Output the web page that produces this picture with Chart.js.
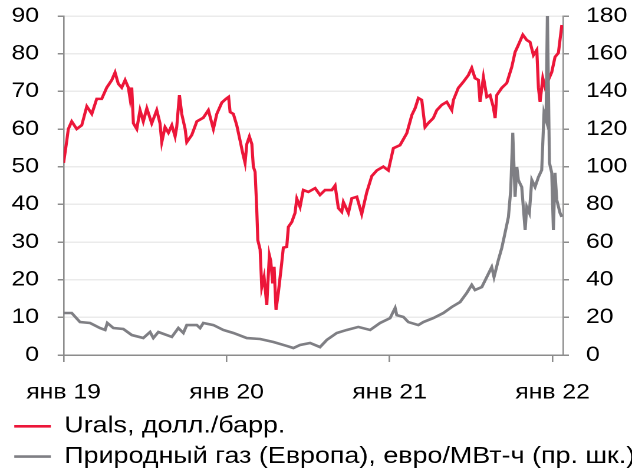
<!DOCTYPE html>
<html>
<head>
<meta charset="utf-8">
<script src="https://cdn.jsdelivr.net/npm/chart.js@4"></script>
<style>
  html, body { margin: 0; padding: 0; background: #fff; }
  /* the source picture is a bit wider than tall-proportional, so stretch the drawing */
  #wrap { width: 536px; height: 472px; transform: scaleX(1.1791); transform-origin: 0 0; }
</style>
</head>
<body>
<div id="wrap"><canvas id="chart"></canvas></div>
<script>
// x is months since Jan 2019
const xTickPos = [0, 12, 24, 36];
const xTickLabels = ["янв 19", "янв 20", "янв 21", "янв 22"];

const uralsLabel = "Urals, долл./барр.";
const uralsMonths = [
  0, 0.24, 0.35, 0.6, 0.97, 1.34, 1.71, 2.08, 2.44, 2.81,
  3.18, 3.55, 3.79, 4.03, 4.28, 4.53, 4.77, 4.9, 5.02, 5.14,
  5.39, 5.63, 5.87, 6.13, 6.49, 6.86, 7.1, 7.23, 7.47, 7.72,
  7.97, 8.21, 8.33, 8.53, 8.7, 8.95, 9.07, 9.44, 9.81, 10.29,
  10.66, 11.03, 11.28, 11.65, 11.96, 12.15, 12.26, 12.5, 12.75, 12.99,
  13.19, 13.36, 13.49, 13.68, 13.86, 13.97, 14.1, 14.22, 14.3, 14.47,
  14.59, 14.76, 14.96, 15.15, 15.25, 15.4, 15.5, 15.64, 15.81, 16.06,
  16.18, 16.43, 16.55, 16.8, 17.04, 17.17, 17.41, 17.65, 18.02, 18.52,
  18.88, 19.25, 19.75, 19.99, 20.23, 20.48, 20.6, 20.97, 21.22, 21.59,
  21.95, 22.32, 22.69, 23.06, 23.54, 23.91, 24.28, 24.77, 25.27, 25.64,
  25.88, 26.12, 26.37, 26.61, 26.86, 27.22, 27.48, 27.84, 28.21, 28.58,
  28.7, 29.06, 29.43, 29.8, 30.05, 30.29, 30.54, 30.66, 30.91, 31.16,
  31.4, 31.64, 31.77, 31.89, 32.26, 32.63, 33.0, 33.24, 33.48, 33.81,
  34.1, 34.34, 34.59, 34.84, 34.96, 35.08, 35.28, 35.45, 35.69, 35.94,
  36.18, 36.43, 36.68
];
const uralsPrice = [
  51, 57, 60, 62, 60, 61, 66, 64, 68, 68,
  71, 73, 75, 72, 71, 73, 71, 68, 71, 61.5,
  60, 65, 62, 65.5, 61.5, 65, 61.5, 56.5, 60.5, 59,
  61, 58, 60.5, 69, 64, 60, 56.5, 58.4, 62, 63,
  65, 60, 64, 67, 68, 68.5, 64.5, 64, 61, 57,
  53.6, 51, 56, 58, 56, 50, 48.6, 39, 30.5, 28,
  18, 20.7, 13.3, 26.5, 25, 19, 23.4, 12, 16.5, 24.4,
  28.5, 28.7, 34, 35.3, 37.7, 41.5, 39.3, 43.8, 43.3, 44.3,
  42.5, 43.8, 43.8, 45, 39, 38, 40.6, 37.7, 41.6, 42,
  37.4, 43.2, 47.5, 49, 50, 49, 54.9, 55.7, 58.9, 63.7,
  65.5, 68.2, 67.7, 60.5, 61.6, 62.9, 65, 66.4, 67.2, 65,
  67.7, 70.9, 72.5, 74.3, 76.2, 73.5, 73, 67.2, 73.8, 68.5,
  69, 65.8, 62.9, 69, 70.9, 72.2, 76.5, 80.4, 82.3, 85,
  83.6, 83.1, 79.6, 81, 70.9, 67.2, 73.5, 71.1, 73, 75.1,
  79.1, 80.2, 87.6
];

const gasLabel = "Природный газ (Европа), евро/МВт-ч (пр. шк.)";
const gasMonths = [
  0, 0.6, 1.21, 1.95, 2.69, 3.06, 3.22, 3.67, 4.4, 5.02,
  5.87, 6.37, 6.61, 6.98, 7.97, 8.45, 8.82, 9.07, 9.81, 10.05,
  10.29, 11.03, 11.76, 12.5, 13.49, 14.47, 15.45, 16.43, 16.92, 17.41,
  18.15, 18.88, 19.38, 20.11, 20.85, 21.7, 22.57, 23.3, 24.04, 24.41,
  24.53, 25.02, 25.38, 26.12, 26.49, 27.22, 27.96, 28.58, 29.19, 29.68,
  30.05, 30.29, 30.79, 31.16, 31.52, 31.69, 32.01, 32.26, 32.5, 32.75,
  32.92, 33.07, 33.24, 33.37, 33.48, 33.73, 33.98, 34.1, 34.29, 34.47,
  34.71, 34.96, 35.2, 35.37, 35.52, 35.62, 35.77, 35.94, 36.06, 36.18,
  36.31, 36.55, 36.68
];
const gasPrice = [
  22.3, 22.3, 17.5, 17, 14.3, 13.3, 17, 14.3, 13.8, 10.6,
  9, 12.2, 9, 12.2, 9.6, 14.3, 11.7, 15.9, 15.9, 14.3,
  17, 15.9, 13.3, 11.7, 9, 8.5, 6.9, 4.8, 3.7, 5.3,
  6.4, 4.2, 8, 11.7, 13.3, 14.9, 13.3, 17, 19.6, 25,
  21.2, 20.2, 17.5, 15.9, 17.5, 19.6, 22.3, 25.5, 28.1, 32.9,
  37.2, 34.5, 36.1, 41.4, 46.7, 41.4, 50.5, 56.8, 64.8, 73.3,
  87.6, 118, 84, 99.8, 92.9, 89.2, 66.4, 78.6, 75.4, 92.9,
  89.2, 94.5, 98.2, 128.5, 124.8, 182, 102, 96.7, 66.4, 96.7,
  82.3, 75.4, 73.3
];

const axisGray = "#8c8c8c";

Chart.defaults.font.family = "Arial, 'Liberation Sans', sans-serif";
Chart.defaults.color = "#000";

// fixed axis sizes, and no extra room above the plot for the top tick label
function fixWidth(w) {
  return (scale) => {
    scale.width = w;
    scale.paddingTop = 0;
    scale.paddingBottom = 0;
  };
}

const ctx = document.getElementById("chart");

const chart = new Chart(ctx, {
  type: "line",
  data: {
    datasets: [
      {
        label: uralsLabel,
        data: uralsMonths.map((m, i) => ({ x: m, y: uralsPrice[i] })),
        borderColor: "#ec1639",
        backgroundColor: "#ec1639",
        borderWidth: 2.6,
        pointRadius: 0,
        yAxisID: "y",
        order: 1,
      },
      {
        label: gasLabel,
        data: gasMonths.map((m, i) => ({ x: m, y: gasPrice[i] })),
        borderColor: "#7f7f84",
        backgroundColor: "#7f7f84",
        borderWidth: 2.6,
        pointRadius: 0,
        yAxisID: "y1",
        order: 0,
      },
    ],
  },
  options: {
    responsive: true,
    maintainAspectRatio: false,
    devicePixelRatio: 2,
    animation: false,
    layout: { padding: { top: 16, left: 4.6, right: 0, bottom: -6 } },
    plugins: {
      tooltip: { enabled: false },
      legend: {
        position: "bottom",
        align: "start",
        labels: {
          boxWidth: 31,
          boxHeight: 0,
          padding: 7.5,
          font: { size: 22.8 },
          sort: (a, b) => a.datasetIndex - b.datasetIndex,
        },
      },
    },
    scales: {
      x: {
        type: "linear",
        min: 0,
        max: 36.77,
        afterBuildTicks: (scale) => {
          scale.ticks = xTickPos.map((v) => ({ value: v }));
        },
        afterFit: (scale) => {
          scale.height = 52.4;
        },
        ticks: {
          callback: (value) => xTickLabels[xTickPos.indexOf(value)],
          padding: 18,
          maxRotation: 0,
          font: { size: 21 },
        },
        grid: { drawOnChartArea: false, tickLength: 7, tickColor: axisGray, lineWidth: 1.3 },
        border: { color: axisGray, width: 1.5 },
      },
      y: {
        position: "left",
        min: 0,
        max: 90,
        afterFit: fixWidth(49.3),
        ticks: { stepSize: 10, padding: 15.8, font: { size: 21 } },
        grid: { color: "#ebebeb", lineWidth: 1.5, tickLength: 5, tickColor: axisGray },
        border: { color: axisGray, width: 1.3 },
      },
      y1: {
        position: "right",
        min: 0,
        max: 180,
        afterFit: fixWidth(58.5),
        ticks: { stepSize: 20, padding: 14.5, font: { size: 21 } },
        grid: { drawOnChartArea: false, tickLength: 5, tickColor: axisGray, lineWidth: 1.5 },
        border: { color: axisGray, width: 1.3 },
      },
    },
  },
});
</script>
</body>
</html>
